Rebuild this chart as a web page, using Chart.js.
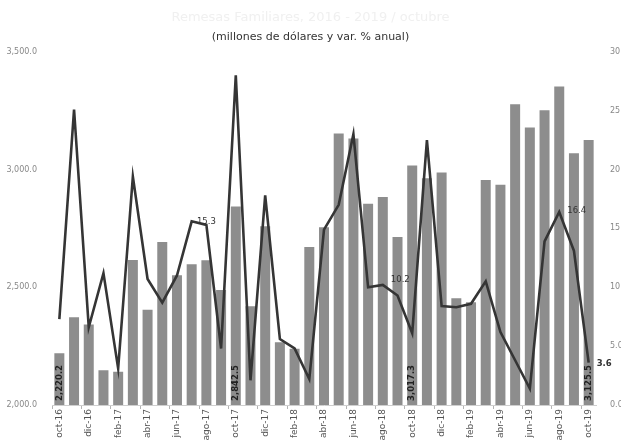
<!DOCTYPE html>
<html>
<head>
<meta charset="utf-8">
<script src="https://cdn.jsdelivr.net/npm/chart.js@4.4.1/dist/chart.umd.min.js"></script>
<style>
  html, body { margin: 0; padding: 0; background: #fff; }
  #wrap { width: 621px; height: 441px; }
</style>
</head>
<body>
<div id="wrap"><canvas id="remesasChart"></canvas></div>
<script>
// Meses (oct-16 a oct-19)
const meses = [
  'oct-16', 'nov-16', 'dic-16', 'ene-17', 'feb-17', 'mar-17', 'abr-17', 'may-17', 'jun-17', 'jul-17',
  'ago-17', 'sep-17', 'oct-17', 'nov-17', 'dic-17', 'ene-18', 'feb-18', 'mar-18', 'abr-18', 'may-18',
  'jun-18', 'jul-18', 'ago-18', 'sep-18', 'oct-18', 'nov-18', 'dic-18', 'ene-19', 'feb-19', 'mar-19',
  'abr-19', 'may-19', 'jun-19', 'jul-19', 'ago-19', 'sep-19', 'oct-19'
];

// Remesas en millones de dolares
const remesas = [
  2220.2, 2373, 2342, 2148, 2141, 2616, 2404, 2692, 2551, 2598,
  2615, 2488, 2842.5, 2419, 2759, 2267, 2239, 2671, 2755, 3153,
  3132, 2855, 2883, 2713, 3017.3, 2963, 2987, 2453, 2436, 2956,
  2935, 3277, 3179, 3252, 3353, 3069, 3125.5
];

// Variacion % anual
const variacion = [
  7.3, 25.1, 6.6, 11.2, 3.1, 19.4, 10.7, 8.7, 11.0, 15.6,
  15.3, 4.8, 28.0, 2.1, 17.8, 5.6, 4.8, 2.2, 14.9, 17.0,
  23.0, 10.0, 10.2, 9.3, 6.1, 22.5, 8.4, 8.3, 8.6, 10.5,
  6.2, 3.8, 1.4, 13.9, 16.4, 13.1, 3.6
];

// Ejes
const ejeMontos = { min: 2000, max: 3500, paso: 500 };
const ejeVariacion = { min: 0, max: 30, paso: 5 };

// Etiquetas visibles
const barrasConEtiqueta = [0, 12, 24, 36];
const puntosConEtiqueta = [10, 22, 34, 36];

function formatoMiles(v) {
  const partes = v.toFixed(1).split('.');
  partes[0] = partes[0].replace(/\B(?=(\d{3})+(?!\d))/g, ',');
  return partes.join('.');
}

// dibuja los valores sobre barras y linea
const etiquetasPlugin = {
  id: 'etiquetas',
  afterDatasetsDraw(chart) {
    const ctx = chart.ctx;
    const barMeta = chart.getDatasetMeta(0);
    const lineMeta = chart.getDatasetMeta(1);
    const bottom = chart.scales.y.bottom;

    ctx.save();
    ctx.fillStyle = '#222';
    ctx.font = 'bold 8.5px "DejaVu Sans"';
    ctx.textAlign = 'left';
    ctx.textBaseline = 'middle';
    barrasConEtiqueta.forEach(i => {
      const bar = barMeta.data[i];
      ctx.save();
      ctx.translate(bar.x, bottom - 4);
      ctx.rotate(-Math.PI / 2);
      ctx.fillText(formatoMiles(remesas[i]), 0, 0);
      ctx.restore();
    });

    ctx.fillStyle = '#333';
    puntosConEtiqueta.forEach(i => {
      const pt = lineMeta.data[i];
      const txt = variacion[i].toFixed(1);
      ctx.font = '8.5px "DejaVu Sans"';
      ctx.textAlign = 'left';
      if (i === 36) {
        ctx.font = 'bold 8.5px "DejaVu Sans"';
        ctx.fillText(txt, pt.x + 8, pt.y + 1);
      } else if (i === 10) {
        ctx.textAlign = 'center';
        ctx.fillText(txt, pt.x, pt.y - 3);
      } else if (i === 34) {
        ctx.fillText(txt, pt.x + 8, pt.y - 1);
      } else {
        ctx.fillText(txt, pt.x + 8, pt.y - 5);
      }
    });
    ctx.restore();
  }
};

const remesasCtx = document.getElementById('remesasChart').getContext('2d');
new Chart(remesasCtx, {
  data: {
    labels: meses,
    datasets: [{
      type: 'bar',
      label: 'Remesas',
      data: remesas,
      yAxisID: 'y',
      backgroundColor: '#8d8d8d',
      barPercentage: 0.68,
      categoryPercentage: 1.0,
      order: 2
    }, {
      type: 'line',
      label: 'Var. %',
      data: variacion,
      yAxisID: 'y1',
      borderColor: '#353535',
      borderWidth: 2.6,
      tension: 0,
      pointRadius: 0,
      fill: false,
      order: 1
    }]
  },
  options: {
    responsive: true,
    maintainAspectRatio: false,
    animation: false,
    layout: {
      padding: { left: 0, right: 0, top: 0, bottom: 0 }
    },
    plugins: {
      legend: { display: false },
      tooltip: { enabled: false },
      title: {
        display: true,
        text: 'Remesas Familiares, 2016 - 2019 / octubre',
        color: '#f0f0f0',
        font: { family: 'DejaVu Sans', size: 13, weight: 'normal' },
        padding: { top: 10, bottom: 2 }
      },
      subtitle: {
        display: true,
        text: '(millones de dólares y var. % anual)',
        color: '#333',
        font: { family: 'DejaVu Sans', size: 11 },
        padding: { top: 3, bottom: 8 }
      }
    },
    scales: {
      x: {
        offset: true,
        afterFit(scale) { scale.height = 36; },
        grid: {
          offset: true,
          drawOnChartArea: false,
          drawTicks: true,
          tickLength: 4,
          color: c => (c.index % 2 === 0 ? '#b5b5b5' : 'rgba(0,0,0,0)')
        },
        border: { display: true, color: '#cfcfcf' },
        ticks: {
          autoSkip: false,
          maxRotation: 90,
          minRotation: 90,
          padding: 0,
          color: '#555',
          font: { family: 'DejaVu Sans', size: 9 },
          callback: function (value, index) {
            return index % 2 === 0 ? meses[index] : '';
          }
        }
      },
      y: {
        position: 'left',
        min: ejeMontos.min,
        max: ejeMontos.max,
        afterFit(scale) { scale.width = 52; },
        grid: { display: false },
        border: { display: false },
        ticks: {
          stepSize: ejeMontos.paso,
          padding: 7,
          color: '#888',
          font: { family: 'DejaVu Sans', size: 8 },
          callback: v => formatoMiles(v)
        }
      },
      y1: {
        position: 'right',
        min: ejeVariacion.min,
        max: ejeVariacion.max,
        afterFit(scale) { scale.width = 25; },
        grid: { display: false },
        border: { display: false },
        ticks: {
          stepSize: ejeVariacion.paso,
          padding: 6,
          color: '#888',
          font: { family: 'DejaVu Sans', size: 8 },
          callback: v => v.toFixed(1)
        }
      }
    }
  },
  plugins: [etiquetasPlugin]
});
</script>
</body>
</html>
